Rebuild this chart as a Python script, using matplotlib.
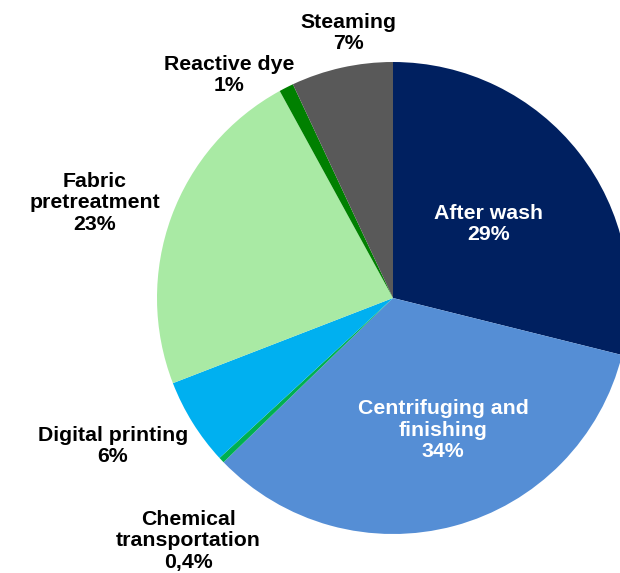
import matplotlib.pyplot as plt

plt.rcParams['font.family'] = ['Liberation Sans', 'DejaVu Sans']

# Données
labels = ['After wash', 'Centrifuging and\nfinishing', 'Chemical\ntransportation',
          'Digital printing', 'Fabric\npretreatment', 'Reactive dye', 'Steaming']
pct_text = ['29%', '34%', '0,4%', '6%', '23%', '1%', '7%']
values = [29, 34, 0.4, 6, 23, 1, 7]
colors = ['#002060', '#558ED5', '#00B050', '#00B0F0', '#A9EAA4', '#008000', '#595959']
text_colors = ['white', 'white', 'black', 'black', 'black', 'black', 'black']
# positions des étiquettes (pixels, depuis le haut)
label_pos = [(489, 224), (443, 430), (188, 541), (113, 446), (95, 203), (229, 75), (348, 33)]

W, H = 620, 573
fig = plt.figure(figsize=(W / 100, H / 100), dpi=100)
ax = fig.add_axes([0, 0, 1, 1])

ax.pie(values, colors=colors, startangle=90, counterclock=False,
       center=(393, H - 298), radius=236, frame=True,
       wedgeprops=dict(linewidth=0))
ax.set_xlim(0, W)
ax.set_ylim(0, H)
ax.set_aspect('equal')
ax.axis('off')

for lab, p, (x, y), c in zip(labels, pct_text, label_pos, text_colors):
    ax.text(x, H - y, lab + '\n' + p, ha='center', va='center', color=c,
            fontsize=15.3, fontweight='bold', linespacing=1.15)

fig.savefig('out.png', dpi=100)
